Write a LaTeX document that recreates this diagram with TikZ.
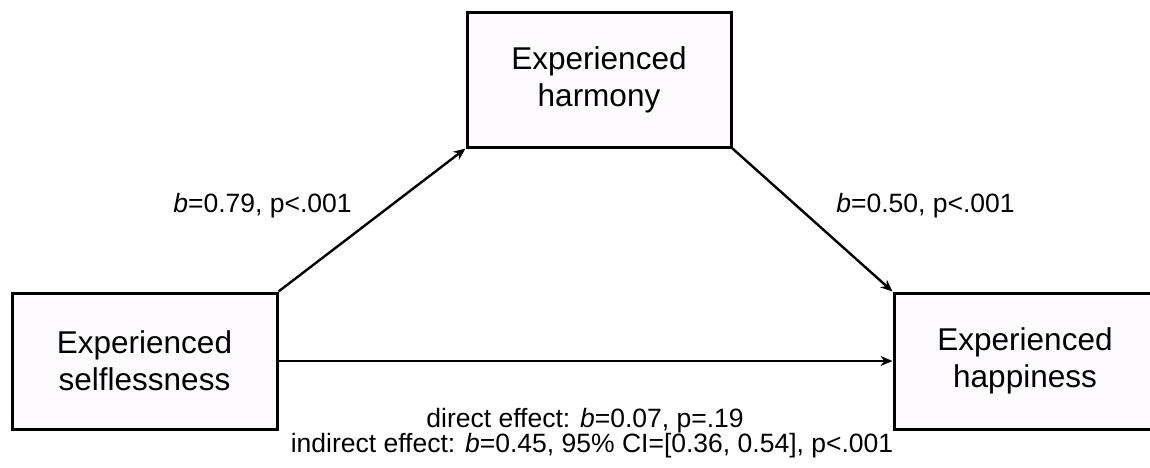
\documentclass[tikz,border=0pt]{standalone}
\usepackage{fontspec}
\setmainfont{Liberation Sans}
\usetikzlibrary{arrows.meta}
\definecolor{boxfill}{RGB}{253,251,254}
\tikzset{
  varbox/.style={draw=black, line width=3pt, fill=boxfill, align=center,
    font=\fontsize{31.5}{37}\selectfont, inner sep=0pt},
  lbl/.style={font=\fontsize{26.5}{25}\selectfont, anchor=base, inner sep=0pt},
  conn/.style={line width=2.4pt, -{Stealth[length=12pt,width=10pt]}}
}
\begin{document}
\begin{tikzpicture}[x=1pt,y=-1pt]
\useasboundingbox (0,0) rectangle (1150,467);
\node[varbox, minimum width=265pt, minimum height=136pt] (sl) at (144.5,361) {Experienced\\selflessness};
\node[varbox, minimum width=264pt, minimum height=135pt] (hm) at (599,79.5) {Experienced\\harmony};
\node[varbox, minimum width=262pt, minimum height=136pt] (hp) at (1025,361) {Experienced\\happiness};
\draw[conn] (sl.north east) -- (hm.south west);
\draw[conn] (hm.south east) -- (hp.north west);
\draw[conn] (sl.east) -- (hp.west);
\node[lbl] (la) at (262.5,212) {\textit{b}=0.79, p<.001};
\node[lbl] (lb) at (925.5,212) {\textit{b}=0.50, p<.001};
\node[lbl] (ld) at (585,427) {direct effect: \textit{b}=0.07, p=.19};
\node[lbl] (li) at (592,452) {indirect effect: \textit{b}=0.45, 95\% CI=[0.36, 0.54], p<.001};
\end{tikzpicture}
\end{document}
